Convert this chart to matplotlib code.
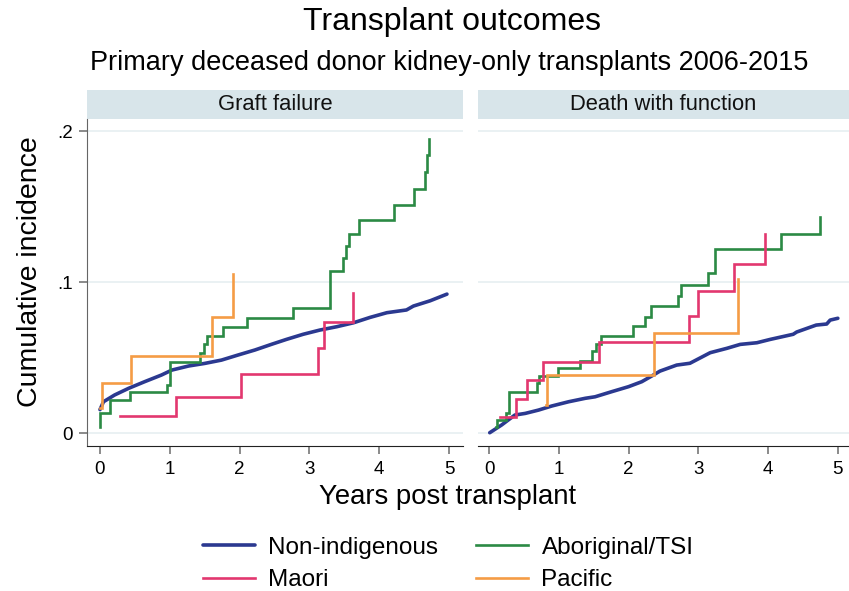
import matplotlib
matplotlib.use("Agg")
import matplotlib.pyplot as plt
from matplotlib.patches import Rectangle

plt.rcParams['font.family'] = ['Liberation Sans', 'DejaVu Sans']

# ---- data (cumulative incidence, step functions) ----
groups = ['Non-indigenous', 'Maori', 'Aboriginal/TSI', 'Pacific']
colors = {'Non-indigenous': '#2b3990', 'Maori': '#e2376f',
          'Aboriginal/TSI': '#2b8a44', 'Pacific': '#f59c45'}

# Graft failure
gf_non_x = [0, 0.05, 0.21, 0.41, 0.64, 0.88, 1.03, 1.27, 1.50, 1.74, 1.98, 2.22,
            2.46, 2.67, 2.91, 3.15, 3.39, 3.63, 3.87, 4.11, 4.39, 4.49, 4.73, 4.97]
gf_non_y = [0.0155, 0.0207, 0.0252, 0.0296, 0.034, 0.0384, 0.0417, 0.0444, 0.0461,
            0.0483, 0.0517, 0.055, 0.0588, 0.062, 0.0654, 0.0682, 0.0704, 0.073,
            0.0766, 0.0797, 0.0815, 0.0841, 0.0876, 0.092]
gf_mao_x = [0.29, 1.09, 2.02, 3.13, 3.21, 3.63]
gf_mao_y = [0.0113, 0.024, 0.039, 0.056, 0.0737, 0.093]
gf_abo_x = [0, 0.005, 0.14, 0.43, 0.96, 1.01, 1.43, 1.49, 1.53, 1.76, 2.10, 2.77,
            3.30, 3.48, 3.52, 3.57, 3.71, 4.21, 4.50, 4.65, 4.68, 4.72]
gf_abo_y = [0.004, 0.013, 0.022, 0.027, 0.032, 0.047, 0.053, 0.059, 0.064, 0.070,
            0.076, 0.083, 0.1075, 0.116, 0.124, 0.132, 0.141, 0.151, 0.1616,
            0.173, 0.184, 0.195]
gf_pac_x = [0.0, 0.03, 0.44, 1.60, 1.90]
gf_pac_y = [0.0163, 0.0333, 0.051, 0.0766, 0.105]

# Death with function
dwf_non_x = [0.01, 0.18, 0.37, 0.52, 0.71, 0.90, 1.14, 1.38, 1.52, 1.76, 2.0, 2.19,
             2.33, 2.45, 2.69, 2.88, 3.17, 3.41, 3.60, 3.84, 4.03, 4.36, 4.41,
             4.69, 4.84, 4.89, 5.0]
dwf_non_y = [0.0002, 0.0053, 0.0119, 0.013, 0.0152, 0.0179, 0.0207, 0.023, 0.024,
             0.0274, 0.0307, 0.034, 0.0377, 0.041, 0.045, 0.0462, 0.0532, 0.0561,
             0.0587, 0.0598, 0.062, 0.0654, 0.0669, 0.0715, 0.0722, 0.0748, 0.076]
dwf_mao_x = [0.16, 0.38, 0.54, 0.78, 1.57, 2.86, 2.99, 3.51, 3.95]
dwf_mao_y = [0.0108, 0.0223, 0.035, 0.0472, 0.0605, 0.0775, 0.094, 0.112, 0.132]
dwf_abo_x = [0.10, 0.12, 0.25, 0.28, 0.69, 0.72, 0.99, 1.30, 1.48, 1.53, 1.61, 2.06,
             2.23, 2.32, 2.71, 2.75, 3.14, 3.24, 4.18, 4.74]
dwf_abo_y = [0.004, 0.0086, 0.013, 0.027, 0.033, 0.038, 0.043, 0.048, 0.054, 0.059,
             0.064, 0.071, 0.077, 0.084, 0.091, 0.098, 0.106, 0.122, 0.132, 0.143]
dwf_pac_x = [0.82, 0.83, 2.37, 3.57]
dwf_pac_y = [0.0185, 0.0384, 0.0664, 0.102]

panels = [
    ('Graft failure', {'Non-indigenous': (gf_non_x, gf_non_y), 'Maori': (gf_mao_x, gf_mao_y),
                       'Aboriginal/TSI': (gf_abo_x, gf_abo_y), 'Pacific': (gf_pac_x, gf_pac_y)}),
    ('Death with function', {'Non-indigenous': (dwf_non_x, dwf_non_y), 'Maori': (dwf_mao_x, dwf_mao_y),
                             'Aboriginal/TSI': (dwf_abo_x, dwf_abo_y), 'Pacific': (dwf_pac_x, dwf_pac_y)}),
]

W, H = 849, 591
fig = plt.figure(figsize=(W / 100, H / 100), dpi=100)

# axes boxes in pixels: left, right, xlim
boxes = [(87, 463, (-0.186, 5.2)), (478, 849, (-0.158, 5.16))]
top_px, bot_px = 119, 446
strip_h = 29

axes = []
for i, ((title, series), (l, r, xl)) in enumerate(zip(panels, boxes)):
    ax = fig.add_axes([l / W, 1 - bot_px / H, (r - l) / W, (bot_px - top_px) / H])
    ax.set_xlim(*xl)
    ax.set_ylim(-0.0086, 0.208)
    for g in [0, 0.1, 0.2]:
        ax.axhline(g, color='#e6eff1', lw=1.2, zorder=0)
    for grp in ['Non-indigenous', 'Aboriginal/TSI', 'Maori', 'Pacific']:
        xs, ys = series[grp]
        if grp == 'Non-indigenous':
            # many tiny steps in the original: drawn as a joined line
            ax.plot(xs, ys, color=colors[grp], lw=2.6, label=grp, solid_capstyle='round')
        else:
            ax.step(xs, ys, where='post', color=colors[grp], lw=1.9, label=grp,
                    solid_joinstyle='miter')
    ax.set_xticks(range(6))
    ax.tick_params(axis='x', length=6, width=1.2, color='#777777', labelsize=13.5, pad=5)
    for s in ['top', 'right']:
        ax.spines[s].set_visible(False)
    ax.spines['bottom'].set_color('#222222')
    if i == 0:
        ax.set_yticks([0, 0.1, 0.2])
        ax.set_yticklabels(['0', '.1', '.2'])
        ax.tick_params(axis='y', length=6, width=1.2, color='#777777', labelsize=13.5, pad=4)
        ax.spines['left'].set_color('#666666')
    else:
        ax.set_yticks([])
        ax.spines['left'].set_visible(False)
    frac = strip_h / (bot_px - top_px)
    ax.add_patch(Rectangle((0, 1.0), 1, frac, transform=ax.transAxes,
                           facecolor='#d8e5ea', edgecolor='none', clip_on=False))
    ax.text(0.5, 1 + frac / 2, title, transform=ax.transAxes, ha='center', va='center',
            fontsize=15.8, color='#111111')
    axes.append(ax)

fig.text(452 / W, 1 - 22 / H, 'Transplant outcomes', ha='center', va='center', fontsize=23)
fig.text(449 / W, 1 - 63 / H, 'Primary deceased donor kidney-only transplants 2006-2015',
         ha='center', va='center', fontsize=19.5)
fig.text(30 / W, 1 - 272 / H, 'Cumulative incidence', rotation=90, ha='center', va='center',
         fontsize=20.5)
fig.text(448 / W, 1 - 497 / H, 'Years post transplant', ha='center', va='center', fontsize=19.8)

handles, labels = axes[0].get_legend_handles_labels()
order = ['Non-indigenous', 'Maori', 'Aboriginal/TSI', 'Pacific']
hmap = dict(zip(labels, handles))
fig.legend([hmap[k] for k in order], order, loc='center', bbox_to_anchor=(448 / W, 1 - 564 / H),
           ncol=2, frameon=False, fontsize=17.5, handlelength=2.15, handletextpad=0.55,
           columnspacing=1.55, labelspacing=0.43)

fig.savefig('out.png', dpi=100, facecolor='white')
